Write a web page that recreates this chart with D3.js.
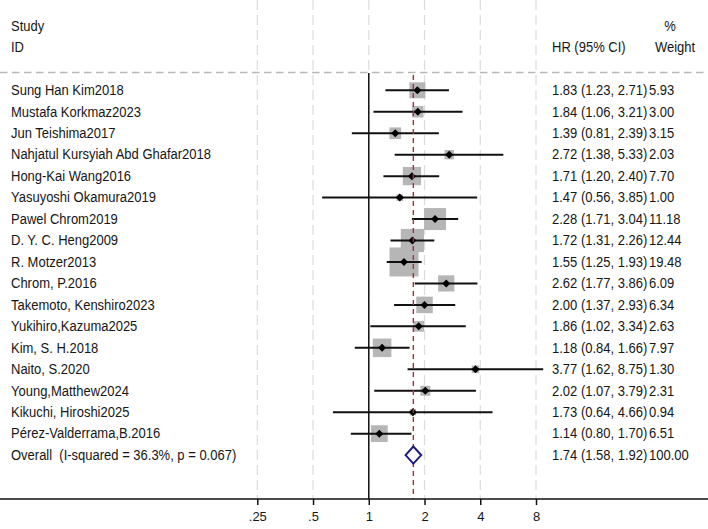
<!DOCTYPE html>
<html>
<head>
<meta charset="utf-8">
<script src="https://cdn.jsdelivr.net/npm/d3@7"></script>
<style>
  body { margin: 0; background: #fff; }
  text { font-family: Arial, "Liberation Sans", sans-serif; font-size: 13px; fill: #161616; white-space: pre; }
</style>
</head>
<body>
<div id="chart"></div>
<script>
"use strict";

const studies = ["Sung Han Kim2018", "Mustafa Korkmaz2023", "Jun Teishima2017",
  "Nahjatul Kursyiah Abd Ghafar2018", "Hong-Kai Wang2016", "Yasuyoshi Okamura2019",
  "Pawel Chrom2019", "D. Y. C. Heng2009", "R. Motzer2013", "Chrom, P.2016",
  "Takemoto, Kenshiro2023", "Yukihiro,Kazuma2025", "Kim, S. H.2018", "Naito, S.2020",
  "Young,Matthew2024", "Kikuchi, Hiroshi2025", "Pérez-Valderrama,B.2016"];
const hr = [1.83, 1.84, 1.39, 2.72, 1.71, 1.47, 2.28, 1.72, 1.55, 2.62, 2.00, 1.86, 1.18, 3.77, 2.02, 1.73, 1.14];
const lo = [1.23, 1.06, 0.81, 1.38, 1.20, 0.56, 1.71, 1.31, 1.25, 1.77, 1.37, 1.02, 0.84, 1.62, 1.07, 0.64, 0.80];
const hi = [2.71, 3.21, 2.39, 5.33, 2.40, 3.85, 3.04, 2.26, 1.93, 3.86, 2.93, 3.34, 1.66, 8.75, 3.79, 4.66, 1.70];
const weights = ["5.93", "3.00", "3.15", "2.03", "7.70", "1.00", "11.18", "12.44", "19.48", "6.09",
  "6.34", "2.63", "7.97", "1.30", "2.31", "0.94", "6.51"];

const overallLabel = "Overall  (I-squared = 36.3%, p = 0.067)";
const overall = { hr: 1.74, lo: 1.58, hi: 1.92, weight: "100.00" };

const tickValues = [0.25, 0.5, 1, 2, 4, 8];
const tickLabels = [".25", ".5", "1", "2", "4", "8"];

const width = 708, height = 529;
const axisY = 499;
const fmt = d3.format(".2f");

const svg = d3.select("#chart").append("svg")
  .attr("width", width)
  .attr("height", height);

const x = d3.scaleLog().base(2).domain([0.25, 8]).range([257.3, 536]);
const y = d3.scaleLinear().domain([0, studies.length]).range([90.3, 455.1]);
const side = d3.scaleSqrt().domain([0, 19.48]).range([0, 29]);

// text is a little taller than wide in the original export
function label(g, tx, ty, str, anchor) {
  return g.append("text")
    .attr("transform", "translate(" + tx + "," + ty + ") scale(1,1.08)")
    .attr("text-anchor", anchor || "start")
    .text(str);
}

// vertical grid
svg.append("g").selectAll("line")
  .data(tickValues)
  .enter().append("line")
  .attr("x1", d => x(d)).attr("x2", d => x(d))
  .attr("y1", 0).attr("y2", axisY)
  .attr("stroke", "#dcdcdc")
  .attr("stroke-width", 1.2)
  .attr("stroke-dasharray", "10,5");

// header rule
svg.append("line")
  .attr("x1", 0).attr("x2", width)
  .attr("y1", 72.5).attr("y2", 72.5)
  .attr("stroke", "#b8b8b8")
  .attr("stroke-width", 1.3)
  .attr("stroke-dasharray", "7.5,4.5");

// null line
svg.append("line")
  .attr("x1", x(1)).attr("x2", x(1))
  .attr("y1", 73).attr("y2", axisY)
  .attr("stroke", "#111")
  .attr("stroke-width", 1.5);

// weight boxes
const rows = svg.append("g").selectAll("g")
  .data(studies)
  .enter().append("g");

rows.append("rect")
  .attr("x", (d, i) => x(hr[i]) - side(+weights[i]) / 2)
  .attr("y", (d, i) => y(i) - side(+weights[i]) / 2)
  .attr("width", (d, i) => side(+weights[i]))
  .attr("height", (d, i) => side(+weights[i]))
  .attr("fill", "#b6b6b6");

// overall line (red dashed)
svg.append("line")
  .attr("x1", x(overall.hr)).attr("x2", x(overall.hr))
  .attr("y1", 75).attr("y2", axisY)
  .attr("stroke", "#b02c38")
  .attr("stroke-width", 1.4)
  .attr("stroke-dasharray", "5,4");

rows.append("line")
  .attr("x1", (d, i) => x(lo[i]))
  .attr("x2", (d, i) => x(hi[i]))
  .attr("y1", (d, i) => y(i))
  .attr("y2", (d, i) => y(i))
  .attr("stroke", "#111")
  .attr("stroke-width", 2);

rows.append("path")
  .attr("d", (d, i) => {
    const cx = x(hr[i]), cy = y(i), r = 4;
    return "M" + (cx - r) + "," + cy + "L" + cx + "," + (cy - r) + "L" + (cx + r) + "," + cy + "L" + cx + "," + (cy + r) + "Z";
  })
  .attr("fill", "#000");

rows.each(function(d, i) {
  const g = d3.select(this);
  label(g, 11, y(i) + 4.8, d);
  label(g, 552, y(i) + 4.8, fmt(hr[i]) + " (" + fmt(lo[i]) + ", " + fmt(hi[i]) + ")");
  label(g, 649, y(i) + 4.8, weights[i]);
});

// overall row
const oy = y(studies.length);
svg.append("path")
  .attr("d", "M" + x(overall.lo) + "," + oy + "L" + x(overall.hr) + "," + (oy - 8.5) +
    "L" + x(overall.hi) + "," + oy + "L" + x(overall.hr) + "," + (oy + 8.5) + "Z")
  .attr("fill", "#fff")
  .attr("stroke", "#1c1c78")
  .attr("stroke-width", 2);

label(svg, 11, oy + 4.8, overallLabel);
label(svg, 552, oy + 4.8, fmt(overall.hr) + " (" + fmt(overall.lo) + ", " + fmt(overall.hi) + ")");
label(svg, 649, oy + 4.8, overall.weight);

// headers
label(svg, 11, 30.5, "Study");
label(svg, 11, 51.5, "ID");
label(svg, 552, 51.5, "HR (95% CI)");
label(svg, 670, 30.5, "%", "middle");
label(svg, 675, 51.5, "Weight", "middle");

// x axis
const axis = svg.append("g")
  .attr("transform", "translate(0," + axisY + ")")
  .call(d3.axisBottom(x)
    .tickValues(tickValues)
    .tickFormat((d, i) => tickLabels[i])
    .tickSize(6)
    .tickPadding(7));
axis.select(".domain").remove();
axis.selectAll(".tick line").attr("stroke", "#111").attr("stroke-width", 1.5);
axis.selectAll(".tick text").style("font-size", "13px").attr("fill", "#161616")
  .style("font-family", "Arial, 'Liberation Sans', sans-serif");
svg.append("line")
  .attr("x1", 0).attr("x2", width)
  .attr("y1", axisY).attr("y2", axisY)
  .attr("stroke", "#111")
  .attr("stroke-width", 1.5);
</script>
</body>
</html>
